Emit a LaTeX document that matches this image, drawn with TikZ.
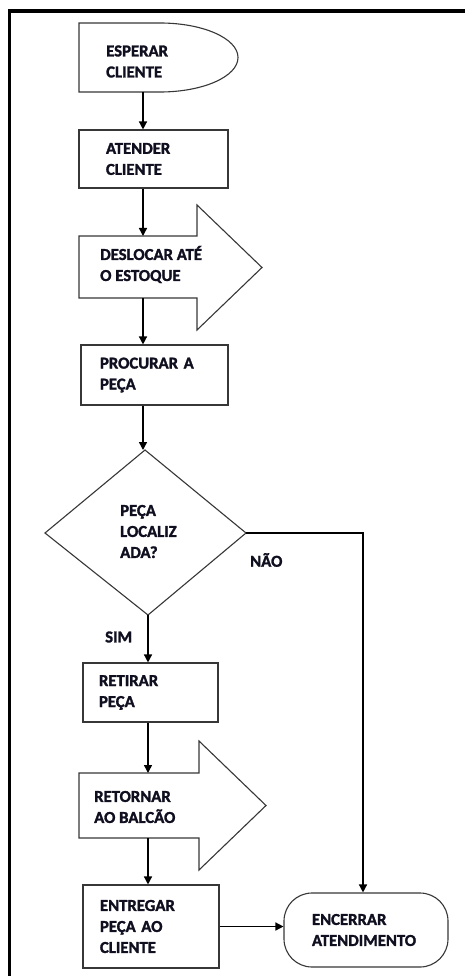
\documentclass[tikz,border=0pt]{standalone}
\usepackage{fontspec}
\setmainfont{Carlito}[BoldFeatures={FakeBold=1.6}]
\usetikzlibrary{arrows.meta,calc}
\definecolor{txtc}{RGB}{15,15,32}
\definecolor{linec}{RGB}{55,55,55}
\begin{document}
\begin{tikzpicture}[x=1pt,y=-1pt,
  txt/.style={font=\fontsize{16.7}{21}\selectfont\bfseries, text=txtc, align=left, inner sep=0pt},
  shp/.style={draw=linec, line width=1.1pt, fill=white},
  box/.style={shp, txt, rectangle, inner xsep=#1, inner ysep=0pt},
  lbl/.style={txt, anchor=west},
  arr/.style={draw=black, line width=1.4pt, -{Triangle[length=8pt,width=8pt]}},
  ln/.style={draw=black, line width=1.4pt}]
\useasboundingbox (0,0) rectangle (464,976);
% frame
\draw[line width=3.5pt] (9.5,990) -- (9.5,11) -- (480,11);

% column coordinates
\coordinate (colA) at (143,0);
\coordinate (colB) at (148,0);
\coordinate (colC) at (363,0);

% ESPERAR CLIENTE (delay)
\draw[shp] (79,23) -- (160,23) .. controls (203,23) and (238,38.4) .. (238,57.5)
  .. controls (238,76.6) and (203,92) .. (160,92) -- (79,92) -- cycle;
\coordinate (espS) at (143,92);
\node[lbl] (esperar) at (106,61.5) {ESPERAR\\CLIENTE};

% ATENDER CLIENTE
\node[box=27pt, minimum width=149pt, minimum height=58pt, text width=95pt] (atender) at (153.5,159) {ATENDER\\CLIENTE};

% DESLOCAR (block arrow)
\draw[shp] (79,236) -- (197,236) -- (197,205) -- (262,267.5) -- (197,330) -- (197,298) -- (79,298) -- cycle;
\coordinate (deslN) at (143,236);
\coordinate (deslS) at (143,298);
\node[lbl] (deslocar) at (100,264.5) {DESLOCAR ATÉ\\O ESTOQUE};

% PROCURAR A PEÇA
\node[box=19pt, minimum width=147pt, minimum height=60pt, text width=109pt] (procurar) at (154.5,375) {PROCURAR A\\PEÇA};

% decision
\draw[shp] (145,450) coordinate (dT) -- (246,533) coordinate (dR) -- (148,615) coordinate (dB) -- (45,533) coordinate (dL) -- cycle;
\node[lbl] (decisao) at (120,531.5) {PEÇA\\LOCALIZ\\ADA?};

% RETIRAR PEÇA
\node[box=16pt, minimum width=135pt, minimum height=59pt, text width=103pt] (retirar) at (150.5,692.5) {RETIRAR\\PEÇA};

% RETORNAR (block arrow)
\draw[shp] (79,773) -- (199,773) -- (199,741) -- (266,805.5) -- (199,870) -- (199,838) -- (79,838) -- cycle;
\coordinate (retN) at (148,773);
\coordinate (retS) at (148,838);
\node[lbl] (retornar) at (94,807) {RETORNAR\\AO BALCÃO};

% ENTREGAR
\node[box=17pt, minimum width=136pt, minimum height=83pt, text width=102pt] (entregar) at (151,926.5) {ENTREGAR\\PEÇA AO\\CLIENTE};

% ENCERRAR
\node[box=28pt, rounded corners=28pt, minimum width=164pt, minimum height=74pt, text width=108pt] (encerrar) at (366,930) {ENCERRAR\\ATENDIMENTO};

% labels
\node[lbl] (nao) at (250,560) {NÃO};
\node[lbl] (sim) at (105,637) {SIM};

% connectors
\draw[arr] (espS) -- (atender.north -| colA);
\draw[arr] (atender.south -| colA) -- (deslN);
\draw[arr] (deslS) -- (procurar.north -| colA);
\draw[arr] (procurar.south -| colA) -- (dT -| colA);
\draw[arr] (dB) -- (retirar.north -| colB);
\draw[arr] (dR) -| (encerrar.north -| colC);
\draw[arr] (retirar.south -| colB) -- (retN);
\draw[arr] (retS) -- (entregar.north -| colB);
\draw[arr] (entregar.east) -- (entregar.east -| encerrar.west);
\end{tikzpicture}
\end{document}
